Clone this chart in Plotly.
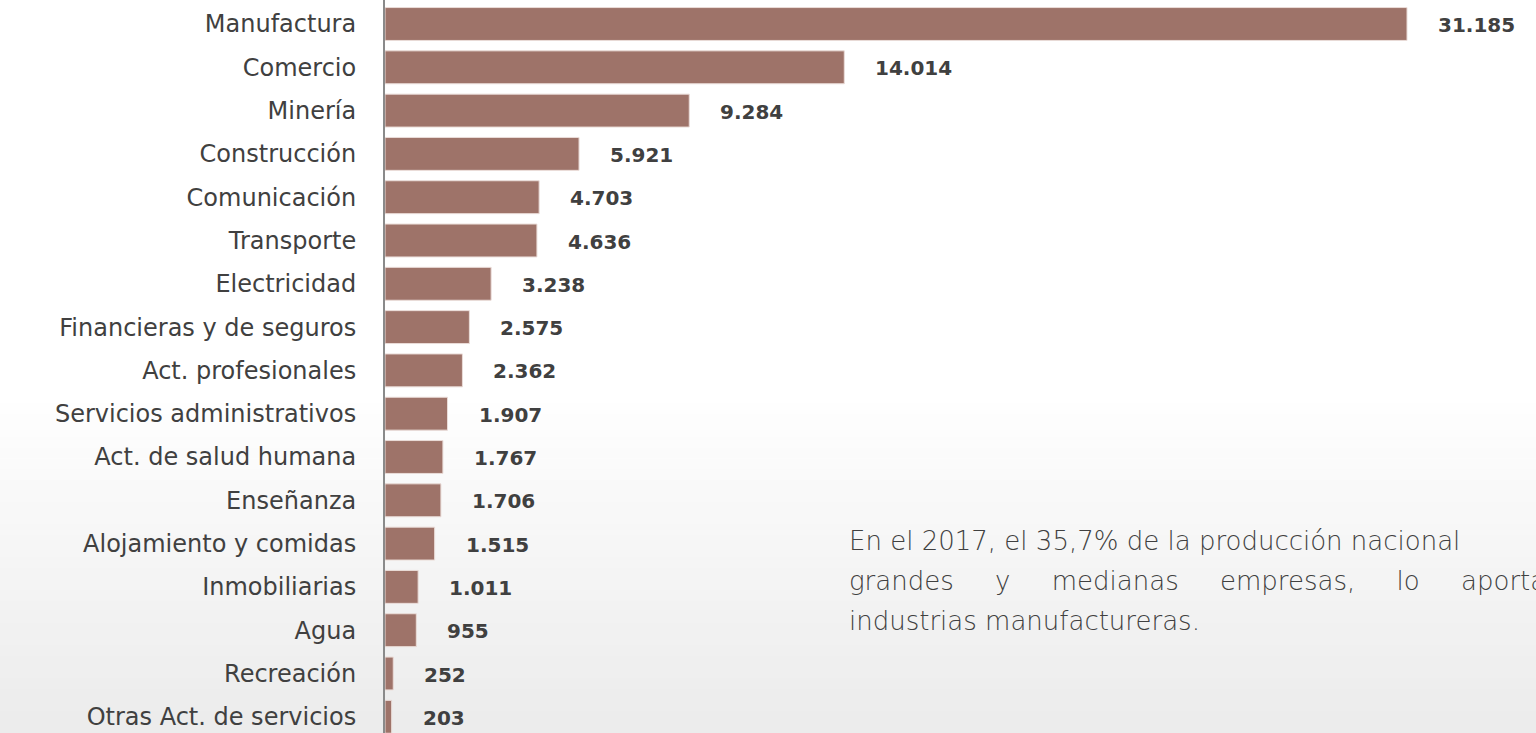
import plotly.graph_objects as go

categories = ["Manufactura", "Comercio", "Minería", "Construcción", "Comunicación",
              "Transporte", "Electricidad", "Financieras y de seguros", "Act. profesionales",
              "Servicios administrativos", "Act. de salud humana", "Enseñanza",
              "Alojamiento y comidas", "Inmobiliarias", "Agua", "Recreación",
              "Otras Act. de servicios"]
values = [31185, 14014, 9284, 5921, 4703, 4636, 3238, 2575, 2362, 1907, 1767, 1706,
          1515, 1011, 955, 252, 203]
note_lines = ["En el 2017, el 35,7% de la producción nacional",
              "grandes    y    medianas    empresas,    lo    aportaron",
              "industrias manufactureras."]


def fmt(v):
    return f"{v:,}".replace(",", ".")


W, H = 1536, 733
L = 385
fig = go.Figure()
fig.add_trace(go.Bar(
    x=values, y=categories, orientation="h",
    marker=dict(color="#9E7369", line=dict(color="#EADCD8", width=1)),
    hoverinfo="skip", showlegend=False,
))

# value labels
for c, v in zip(categories, values):
    fig.add_annotation(x=v, y=c, xref="x", yref="y", text=fmt(v), showarrow=False,
                       xanchor="left", yanchor="middle", xshift=29, yshift=-1,
                       font=dict(family="DejaVu Sans", size=20, color="#404040", weight="bold"))

# note text (one annotation per line)
line_y = [541, 581, 621]
for t, yy in zip(note_lines, line_y):
    fig.add_annotation(x=(847 - L) / (W - L), y=1 - yy / H, xref="paper", yref="paper",
                       text=t.replace("    ", "\u00a0\u00a0\u00a0\u00a0\u00a0"),
                       showarrow=False, xanchor="left", yanchor="middle",
                       font=dict(family="DejaVu Sans", size=26, color="#404040", weight=300))

# background gradient (white top -> light gray bottom)
shapes = []
n = 30
y_start = 0.45
for i in range(n):
    y0 = y_start * i / n
    y1 = y_start * (i + 1) / n
    g = int(236 + (255 - 236) * (i / n))
    shapes.append(dict(type="rect", xref="paper", yref="paper", x0=-L / (W - L), x1=1, y0=y0, y1=y1,
                       fillcolor=f"rgb({g},{g},{g})", line=dict(width=0), layer="below"))
fig.update_layout(shapes=shapes)

xscale = 1022 / 31185  # px per unit
xmax = (W - L) / xscale
rowpx = 43.3
ytop = -24 / rowpx
ybot = ytop + H / rowpx

fig.update_layout(
    width=W, height=H,
    margin=dict(l=L, r=0, t=0, b=0),
    paper_bgcolor="white", plot_bgcolor="rgba(0,0,0,0)",
    bargap=0.24,
    xaxis=dict(range=[0, xmax], visible=False, fixedrange=True),
    yaxis=dict(type="category", categoryorder="array", categoryarray=categories,
               range=[ybot, ytop], showline=True, linecolor="#8A8A8A", linewidth=2,
               showgrid=False, ticks="", ticklabelstandoff=22,
               tickfont=dict(family="DejaVu Sans", size=24, color="#404040"),
               fixedrange=True),
)
fig.write_html("out.html", config={"displayModeBar": False},
               post_script="document.body.style.margin='0';document.body.style.overflow='hidden';")
